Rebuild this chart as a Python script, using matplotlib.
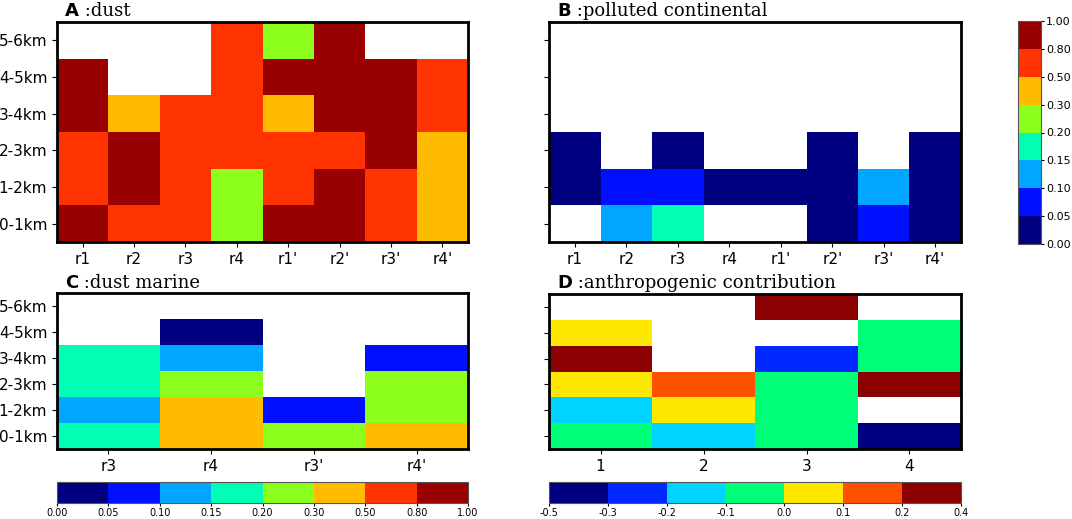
import numpy as np
import matplotlib
matplotlib.use("Agg")
import matplotlib.pyplot as plt
from matplotlib.colors import ListedColormap, BoundaryNorm
import matplotlib.colorbar as mcolorbar
import matplotlib.transforms as mtransforms

nan = np.nan
heights = ["0-1km", "1-2km", "2-3km", "3-4km", "4-5km", "5-6km"]
regions8 = ["r1", "r2", "r3", "r4", "r1'", "r2'", "r3'", "r4'"]
regionsC = ["r3", "r4", "r3'", "r4'"]
regionsD = ["1", "2", "3", "4"]

# rows listed bottom (0-1km) to top (5-6km)
dust = [
    [0.90, 0.65, 0.65, 0.25, 0.90, 0.90, 0.65, 0.40],
    [0.65, 0.90, 0.65, 0.25, 0.65, 0.90, 0.65, 0.40],
    [0.65, 0.90, 0.65, 0.65, 0.65, 0.65, 0.90, 0.40],
    [0.90, 0.40, 0.65, 0.65, 0.40, 0.90, 0.90, 0.65],
    [0.90, nan, nan, 0.65, 0.90, 0.90, 0.90, 0.65],
    [nan, nan, nan, 0.65, 0.25, 0.90, nan, nan],
]
polluted = [
    [nan, 0.125, 0.175, nan, nan, 0.025, 0.075, 0.025],
    [0.025, 0.075, 0.075, 0.025, 0.025, 0.025, 0.125, 0.025],
    [0.025, nan, 0.025, nan, nan, 0.025, nan, 0.025],
    [nan] * 8,
    [nan] * 8,
    [nan] * 8,
]
dust_marine = [
    [0.175, 0.40, 0.25, 0.40],
    [0.125, 0.40, 0.075, 0.25],
    [0.175, 0.25, nan, 0.25],
    [0.175, 0.125, nan, 0.075],
    [nan, 0.025, nan, nan],
    [nan, nan, nan, nan],
]
anthro = [
    [-0.05, -0.15, -0.05, -0.40],
    [-0.15, 0.05, -0.05, nan],
    [0.05, 0.15, -0.05, 0.30],
    [0.30, nan, -0.25, -0.05],
    [0.05, nan, nan, -0.05],
    [nan, nan, 0.30, nan],
]

bounds1 = [0.0, 0.05, 0.10, 0.15, 0.20, 0.30, 0.50, 0.80, 1.00]
colors1 = ["#000080", "#0010ff", "#00a6ff", "#00ffb4", "#8cff1c",
           "#ffbb00", "#ff3300", "#990000"]
bounds2 = [-0.5, -0.3, -0.2, -0.1, 0.0, 0.1, 0.2, 0.4]
colors2 = ["#000080", "#0028ff", "#00d4ff", "#00ff78", "#ffe800",
           "#ff5000", "#8b0000"]

cmap1 = ListedColormap(colors1)
cmap1.set_bad("white")
norm1 = BoundaryNorm(bounds1, cmap1.N)
cmap2 = ListedColormap(colors2)
cmap2.set_bad("white")
norm2 = BoundaryNorm(bounds2, cmap2.N)

W, H = 1072, 519
fig = plt.figure(figsize=(W / 100, H / 100), dpi=100)


def rect(x0, x1, y0, y1):
    return [x0 / W, 1 - y1 / H, (x1 - x0) / W, (y1 - y0) / H]


def panel(r, data, labels, cmap, norm, letter, title, ylabels):
    ax = fig.add_axes(r)
    arr = np.ma.masked_invalid(np.array(data, dtype=float))
    ax.pcolormesh(np.arange(arr.shape[1] + 1), np.arange(arr.shape[0] + 1),
                  arr, cmap=cmap, norm=norm, shading="flat")
    ax.set_xlim(0, arr.shape[1])
    ax.set_ylim(0, arr.shape[0])
    ax.set_xticks(np.arange(arr.shape[1]) + 0.5)
    ax.set_xticklabels(labels, fontsize=11)
    ax.set_yticks(np.arange(arr.shape[0]) + 0.5)
    if ylabels:
        ax.set_yticklabels(heights, fontsize=11)
    else:
        ax.set_yticklabels([])
    for s in ax.spines.values():
        s.set_linewidth(2)
    tr = mtransforms.offset_copy(ax.transAxes, fig=fig, x=0, y=5.5, units="dots")
    t1 = ax.text(0.02, 1.0, letter, transform=tr, fontsize=13,
                 fontweight="bold", family="DejaVu Sans", va="baseline", ha="left")
    ax.annotate(" :" + title, xy=(1, 0), xycoords=t1, fontsize=13,
                family="DejaVu Serif", va="bottom", ha="left")
    return ax


panel(rect(57, 468, 22, 242), dust, regions8, cmap1, norm1, "A", "dust", True)
panel(rect(549, 961, 22, 242), polluted, regions8, cmap1, norm1, "B",
      "polluted continental", False)
panel(rect(57, 468, 293, 449), dust_marine, regionsC, cmap1, norm1, "C",
      "dust marine", True)
panel(rect(549, 961, 294, 449), anthro, regionsD, cmap2, norm2, "D",
      "anthropogenic contribution", False)


def cbar(r, cmap, norm, bounds, orient, fmt, fs, length, pad):
    cax = fig.add_axes(r)
    cb = mcolorbar.ColorbarBase(cax, cmap=cmap, norm=norm, boundaries=bounds,
                                ticks=bounds, orientation=orient,
                                spacing="uniform", format=fmt)
    cb.outline.set_linewidth(0.8)
    cb.outline.set_edgecolor("#555555")
    cax.tick_params(labelsize=fs, length=length, pad=pad, width=0.8)
    return cb


cbar(rect(1018, 1041, 21, 244), cmap1, norm1, bounds1, "vertical", "%.2f",
     8, 2.5, 1)
cbar(rect(57, 468, 482, 503), cmap1, norm1, bounds1, "horizontal", "%.2f",
     7, 2, 1.5)
cbar(rect(549, 961, 482, 503), cmap2, norm2, bounds2, "horizontal", "%.1f",
     7, 2, 1.5)

fig.savefig("out.png", dpi=100)
